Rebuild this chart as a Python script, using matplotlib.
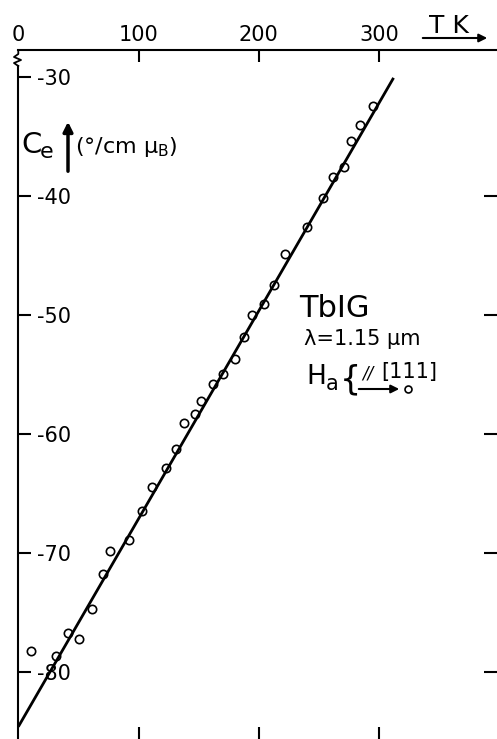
import numpy as np
import matplotlib
matplotlib.use("Agg")
import matplotlib.pyplot as plt

# datos: T en K, Ce en grados/(cm muB)
temperatura = [294.7, 284.4, 276.6, 270.8, 261.9, 253.6, 239.8, 222.0, 212.6, 204.3,
               194.6, 187.7, 180.4, 170.5, 162.1, 151.9, 146.9, 137.5, 131.1, 122.6,
               111.2, 103.1, 91.8, 76.2, 70.4, 61.3, 50.5, 41.1, 31.3, 10.3]
ce = [-32.5, -34.1, -35.4, -37.6, -38.4, -40.2, -42.6, -44.9, -47.5, -49.1,
      -50.0, -51.9, -53.7, -55.0, -55.8, -57.2, -58.3, -59.1, -61.3, -62.9,
      -64.5, -66.5, -68.9, -69.8, -71.8, -74.7, -77.2, -76.7, -78.7, -78.2]

# recta de ajuste (extremos)
ajuste_T = [0, 312]
ajuste_C = [-84.6, -30.1]

xticks = [0, 100, 200, 300]
xtick_labels = ["0", "100", "200", "300"]
yticks = [-30, -40, -50, -60, -70, -80]
ytick_labels = ["-30", "-40", "-50", "-60", "-70", "-80"]

plt.rcParams['axes.unicode_minus'] = False
plt.rcParams['mathtext.default'] = 'regular'

W, H = 497, 739
fig = plt.figure(figsize=(W/100, H/100), dpi=100)
ax = fig.add_axes([18.3/W, 0, 478.7/W, 689/H])


def pos(x, y):  # pixel de la imagen original -> fraccion de ejes
    return (x - 18.3) / 478.7, (H - y) / 689


ax.plot(ajuste_T, ajuste_C, color='k', lw=2, solid_capstyle='butt')
ax.plot(temperatura, ce, 'o', mfc='none', mec='k', ms=6, mew=1.2)

ax.set_xlim(0, 398)
ax.set_ylim(-85.63, -27.76)

for lado in ['right', 'bottom']:
    ax.spines[lado].set_visible(False)
ax.spines['top'].set_linewidth(1.5)
ax.spines['left'].set_linewidth(1.5)
ax.spines['left'].set_bounds(-85.63, -29.1)

# quiebre del eje en la esquina
zz = [pos(18.3, 50), pos(18.3, 54), pos(14, 57), pos(21, 60), pos(14, 63), pos(18.3, 66)]
ax.plot([p[0] for p in zz], [p[1] for p in zz], color='k', lw=1.3,
        transform=ax.transAxes, clip_on=False)

ax.set_xticks(xticks)
ax.set_xticklabels(xtick_labels)
ax.set_yticks(yticks)
ax.set_yticklabels(ytick_labels)
ax.tick_params(axis='x', top=True, bottom=True, labeltop=True, labelbottom=False,
               direction='in', length=8.6, width=1.5, pad=3.5, labelsize=15)
ax.tick_params(axis='y', left=True, right=True, labelleft=True, labelright=False,
               direction='in', length=9.4, width=1.5, pad=-13.5, labelsize=15)
for lab in ax.get_yticklabels():
    lab.set_horizontalalignment('left')
ax.yaxis.get_major_ticks()[0].tick2line.set_visible(False)
ax.xaxis.get_major_ticks()[0].tick2line.set_visible(False)
ax.xaxis.get_major_ticks()[0].tick1line.set_visible(False)

# etiqueta eje x
ax.text(*pos(429, 33), "T K", fontsize=18, ha='left', va='baseline', transform=ax.transAxes)
ax.annotate('', xy=pos(490, 38), xytext=pos(420, 38), xycoords='axes fraction',
            textcoords='axes fraction', annotation_clip=False,
            arrowprops=dict(arrowstyle='-|>', color='k', lw=1.5, mutation_scale=12))

# etiqueta eje y
ax.text(*pos(21, 153), "C", fontsize=21, ha='left', va='baseline', transform=ax.transAxes)
ax.text(*pos(40, 158), "e", fontsize=16, ha='left', va='baseline', transform=ax.transAxes)
ax.annotate('', xy=pos(68, 119), xytext=pos(68, 174), xycoords='axes fraction',
            textcoords='axes fraction',
            arrowprops=dict(arrowstyle='-|>', color='k', lw=2.5, mutation_scale=14))
ax.text(*pos(75, 153), r"(°/cm $\mu_B$)", fontsize=16, ha='left', va='baseline',
        transform=ax.transAxes)

# leyenda
ax.text(*pos(299, 317), "TbIG", fontsize=22, ha='left', va='baseline', transform=ax.transAxes)
ax.text(*pos(304, 345), "λ=1.15 μm", fontsize=15, ha='left', va='baseline', transform=ax.transAxes)
ax.text(*pos(306, 384), "H", fontsize=19, ha='left', va='baseline', transform=ax.transAxes)
ax.text(*pos(326, 390), "a", fontsize=15, ha='left', va='baseline', transform=ax.transAxes)
ax.text(*pos(340, 389), "{", fontsize=24, ha='left', va='baseline', transform=ax.transAxes)
ax.text(*pos(362, 378), "//", fontsize=12, ha='left', va='baseline', style='italic',
        transform=ax.transAxes)
ax.text(*pos(381, 378), "[111]", fontsize=15, ha='left', va='baseline', transform=ax.transAxes)
ax.annotate('', xy=pos(402, 389), xytext=pos(356, 389), xycoords='axes fraction',
            textcoords='axes fraction',
            arrowprops=dict(arrowstyle='-|>', color='k', lw=1.5, mutation_scale=12))
ax.plot(*pos(408, 389), 'o', mfc='white', mec='k', ms=5, mew=1.2,
        transform=ax.transAxes, clip_on=False)

fig.savefig("out.png", dpi=100)
